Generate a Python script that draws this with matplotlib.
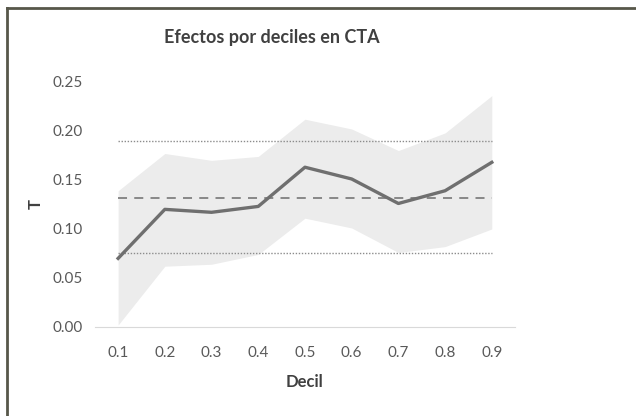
import numpy as np
import matplotlib
matplotlib.use('Agg')
import matplotlib.pyplot as plt
from matplotlib.lines import Line2D

deciles = ['0.1', '0.2', '0.3', '0.4', '0.5', '0.6', '0.7', '0.8', '0.9']
efecto = [0.070, 0.120, 0.117, 0.123, 0.163, 0.151, 0.126, 0.139, 0.168]
banda_sup = [0.139, 0.177, 0.170, 0.174, 0.212, 0.202, 0.180, 0.198, 0.236]
banda_inf = [0.002, 0.062, 0.064, 0.074, 0.111, 0.101, 0.076, 0.082, 0.100]
media = 0.132
lim_sup = 0.190
lim_inf = 0.075
y_ticks = [0.00, 0.05, 0.10, 0.15, 0.20, 0.25]

plt.rcParams['font.family'] = ['Lato', 'DejaVu Sans']

fig = plt.figure(figsize=(6.36, 4.16), dpi=100)
ax = fig.add_axes([0.149, 0.214, 0.661, 0.589])

x = np.arange(len(deciles))
ax.fill_between(x, banda_inf, banda_sup, color='#ececec', linewidth=0, zorder=1)
ax.plot(x, [lim_sup] * len(x), color='#8c8c8c', linestyle=(0, (1, 1.2)), linewidth=1.0, zorder=2)
ax.plot(x, [lim_inf] * len(x), color='#8c8c8c', linestyle=(0, (1, 1.2)), linewidth=1.0, zorder=2)
ax.plot(x, [media] * len(x), color='#808080', linestyle=(0, (5, 4)), linewidth=1.3, zorder=2)
ax.plot(x, efecto, color='#6f6f6f', linewidth=2.4, zorder=3, solid_joinstyle='round')

ax.set_xlim(-0.5, len(deciles) - 0.5)
ax.set_ylim(0, 0.25)
ax.set_xticks(x)
ax.set_xticklabels(deciles)
ax.set_yticks(y_ticks)
ax.set_yticklabels(['%.2f' % v for v in y_ticks])

for side in ['top', 'right', 'left']:
    ax.spines[side].set_visible(False)
ax.spines['bottom'].set_color('#d9d9d9')
ax.tick_params(length=0, labelsize=11, colors='#595959')
ax.tick_params(axis='x', pad=14)
ax.tick_params(axis='y', pad=9)

ax.set_xlabel('Decil', fontsize=12, fontweight='bold', color='#404040', labelpad=10)
ax.set_ylabel('T', fontsize=12, fontweight='bold', color='#404040', labelpad=6)
fig.text(0.428, 0.911, 'Efectos por deciles en CTA', ha='center', va='center',
         fontsize=13, fontweight='bold', color='#404040')

# borde del grafico (solo arriba e izquierda visibles)
fig.lines.append(Line2D([6.5 / 636, 6.5 / 636], [0, 1 - 7.5 / 416], transform=fig.transFigure,
                        color='#57574a', linewidth=2))
fig.lines.append(Line2D([6.5 / 636, 1], [1 - 7.5 / 416, 1 - 7.5 / 416], transform=fig.transFigure,
                        color='#57574a', linewidth=2))

fig.savefig('out.png', dpi=100)
